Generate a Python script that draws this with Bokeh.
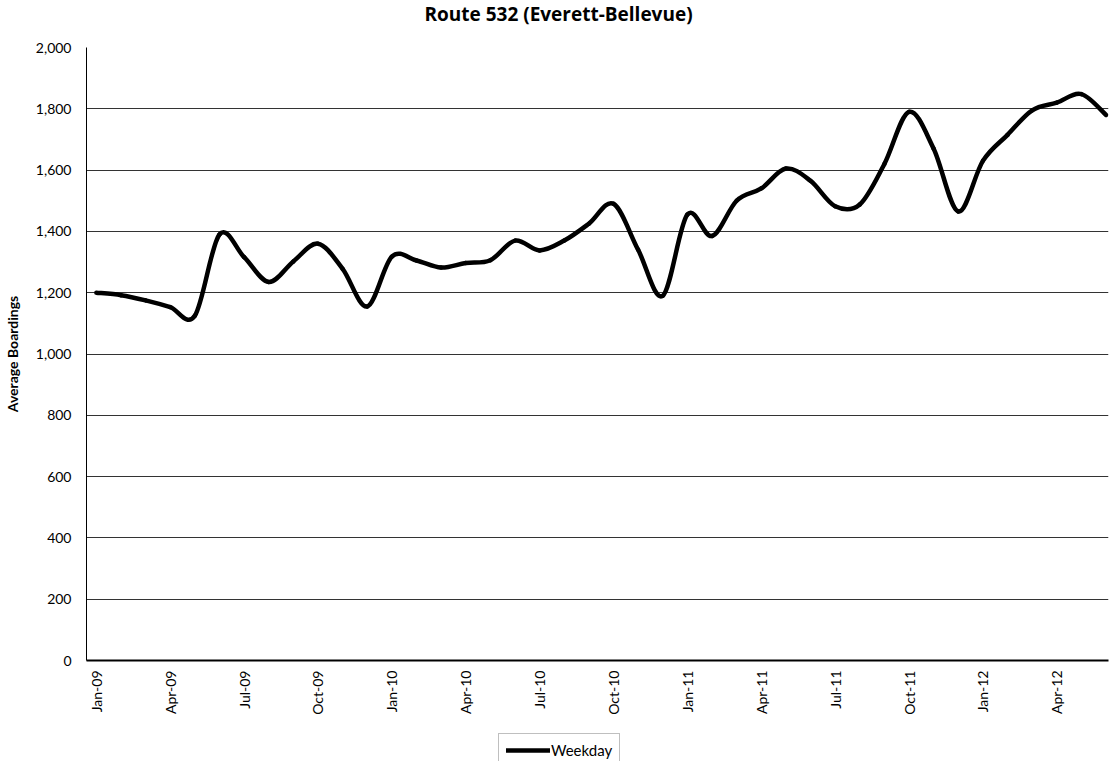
import math

from bokeh.plotting import figure
from bokeh.layouts import column
from bokeh.models import (ColumnDataSource, FixedTicker, NumeralTickFormatter,
                          Legend, LegendItem, Range1d, Label)
from bokeh.embed import file_html
from bokeh.resources import INLINE

# Average weekday boardings per month, Jan-09 .. Jun-12
weekday = [1200, 1192, 1175, 1153, 1125, 1390, 1316, 1235, 1302, 1360, 1278, 1155,
           1318, 1305, 1282, 1297, 1306, 1370, 1338, 1370, 1425, 1490, 1340, 1190,
           1455, 1385, 1500, 1540, 1605, 1565, 1482, 1488, 1620, 1790, 1670, 1465,
           1630, 1715, 1795, 1820, 1848, 1780]

# Quarterly axis labels
tick_labels = ["Jan-09", "Apr-09", "Jul-09", "Oct-09",
               "Jan-10", "Apr-10", "Jul-10", "Oct-10",
               "Jan-11", "Apr-11", "Jul-11", "Oct-11",
               "Jan-12", "Apr-12"]

y_ticks = [0, 200, 400, 600, 800, 1000, 1200, 1400, 1600, 1800, 2000]

TITLE = "Route 532 (Everett-Bellevue)"
FONT = "Lato"
LINE_STYLE = dict(line_color="black", line_width=4.5, line_cap="round",
                  line_join="round")

months = list(range(len(weekday)))
tick_pos = months[::3][:len(tick_labels)]

# Smoothed line: cubic Bezier segments through each monthly point
n = len(weekday)
def pt(i):
    i = min(max(i, 0), n - 1)
    return months[i], weekday[i]

seg = dict(x0=[], y0=[], x1=[], y1=[], cx0=[], cy0=[], cx1=[], cy1=[])
for i in range(n - 1):
    xa, ya = pt(i - 1)
    xb, yb = pt(i)
    xc, yc = pt(i + 1)
    xd, yd = pt(i + 2)
    seg["x0"].append(xb); seg["y0"].append(yb)
    seg["x1"].append(xc); seg["y1"].append(yc)
    seg["cx0"].append(xb + (xc - xa) / 6.0); seg["cy0"].append(yb + (yc - ya) / 6.0)
    seg["cx1"].append(xc - (xd - xb) / 6.0); seg["cy1"].append(yc - (yd - yb) / 6.0)
src = ColumnDataSource(seg)

def strip(h, x_range, y_range):
    f = figure(frame_width=1022, frame_height=h, output_backend="svg",
               toolbar_location=None, x_axis_type=None, y_axis_type=None,
               x_range=x_range, y_range=y_range,
               min_border_left=86, min_border_right=2, min_border_top=0,
               min_border_bottom=0, outline_line_color=None,
               background_fill_color="white", border_fill_color="white")
    f.xgrid.grid_line_color = None
    f.ygrid.grid_line_color = None
    return f

# Title strip (coordinates in pixels across the page)
head = strip(39, Range1d(86, 1108), Range1d(0, 39))
head.add_layout(Label(x=424, y=26, text=TITLE, text_align="left",
                      text_baseline="alphabetic", text_font="Open Sans",
                      text_font_size="19px", text_font_style="bold",
                      text_color="black"))

p = figure(frame_width=1022, frame_height=613, output_backend="svg",
           toolbar_location=None,
           x_range=Range1d(-0.4, 41.1), y_range=Range1d(0, 2000),
           min_border_left=86, min_border_right=2, min_border_top=8,
           min_border_bottom=71, background_fill_color="white",
           border_fill_color="white", outline_line_color=None)

p.bezier(x0="x0", y0="y0", x1="x1", y1="y1", cx0="cx0", cy0="cy0",
         cx1="cx1", cy1="cy1", source=src, **LINE_STYLE)

# Y axis
yax = p.yaxis[0]
yax.ticker = FixedTicker(ticks=y_ticks)
yax.formatter = NumeralTickFormatter(format="0,0")
yax.axis_label = "Average Boardings"
yax.axis_label_text_font = FONT
yax.axis_label_text_font_size = "14px"
yax.axis_label_text_font_style = "bold"
yax.axis_label_text_color = "black"
yax.axis_label_standoff = 12
yax.major_label_text_font = FONT
yax.major_label_text_font_size = "14px"
yax.major_label_text_color = "black"
yax.major_label_standoff = 15
yax.major_tick_out = 0
yax.major_tick_in = 0
yax.minor_tick_out = 0
yax.minor_tick_in = 0
yax.axis_line_color = "black"
yax.axis_line_width = 1

# X axis
xax = p.xaxis[0]
xax.ticker = FixedTicker(ticks=tick_pos)
xax.major_label_overrides = {t: lab for t, lab in zip(tick_pos, tick_labels)}
xax.major_label_orientation = math.pi / 2
xax.major_label_text_font = FONT
xax.major_label_text_font_size = "14px"
xax.major_label_text_color = "black"
xax.major_label_standoff = 10
xax.major_tick_out = 0
xax.major_tick_in = 0
xax.minor_tick_out = 0
xax.minor_tick_in = 0
xax.axis_line_color = "black"
xax.axis_line_width = 2

# Grid
p.xgrid.grid_line_color = None
p.ygrid.ticker = FixedTicker(ticks=y_ticks)
p.ygrid.grid_line_color = "#333333"
p.ygrid.grid_line_width = 1

# Legend strip under the chart; its series sits outside the strip's visible range
lg = strip(30, Range1d(-0.4, 41.1), Range1d(-2, -1))
sample = lg.line(x=months, y=weekday, **LINE_STYLE)

legend = Legend(items=[LegendItem(label="Weekday", renderers=[sample])],
                orientation="horizontal", location=(412, -6),
                label_text_font=FONT, label_text_font_size="15px",
                label_text_color="black", glyph_width=44, glyph_height=18,
                label_standoff=1, padding=7, margin=0, spacing=0,
                border_line_color="#808080", border_line_width=1,
                background_fill_color="white", background_fill_alpha=1.0)
lg.add_layout(legend, "center")

layout = column(head, p, lg, spacing=0)
open("out.html", "w").write(file_html(layout, INLINE))
